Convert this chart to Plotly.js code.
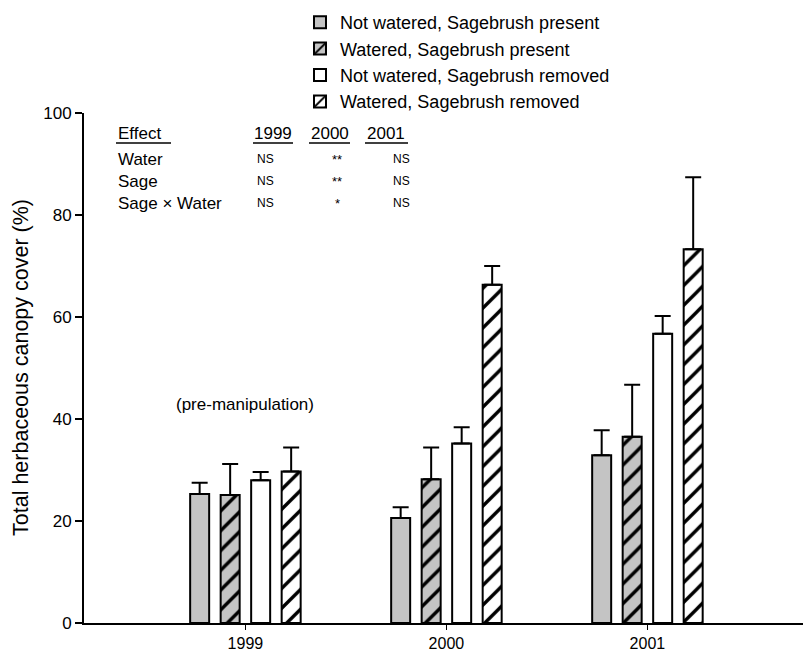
<!DOCTYPE html>
<html>
<head>
<meta charset="utf-8">
<script src="https://cdn.plot.ly/plotly-3.0.1.min.js"></script>
<style>html,body{margin:0;padding:0;background:#fff;}#chart{width:803px;height:651px;}</style>
</head>
<body>
<div id="chart"></div>
<script>
// ---- data ----
const years = ['1999', '2000', '2001'];
const seriesNames = [
  'Not watered, Sagebrush present',
  'Watered, Sagebrush present',
  'Not watered, Sagebrush removed',
  'Watered, Sagebrush removed'
];
const notWateredSagePresent = [25.3, 20.6, 32.9];
const wateredSagePresent    = [25.1, 28.2, 36.5];
const notWateredSageRemoved = [28.0, 35.2, 56.7];
const wateredSageRemoved    = [29.7, 66.3, 73.3];
const errNotWateredSagePresent = [2.2, 2.1, 4.9];
const errWateredSagePresent    = [6.1, 6.2, 10.2];
const errNotWateredSageRemoved = [1.6, 3.2, 3.5];
const errWateredSageRemoved    = [4.7, 3.7, 14.1];

const effectRows = ['Water', 'Sage', 'Sage \u00d7 Water'];
const effect1999 = ['NS', 'NS', 'NS'];
const effect2000 = ['**', '**', '*'];
const effect2001 = ['NS', 'NS', 'NS'];
const yTitle = 'Total herbaceous canopy cover (%)';
const note = '(pre-manipulation)';

// ---- styling ----
const FONT = 'Liberation Sans, Arial, Helvetica, sans-serif';
const W = 803, H = 651;
const M = {l: 84, r: 0, t: 113, b: 28};
const PW = W - M.l - M.r, PH = H - M.t - M.b;
const px = x => (x - M.l) / PW;
const py = y => (H - M.b - y) / PH;
const GRAY = '#c4c4c4';

function errOpts(arr) {
  return {type: 'data', symmetric: false, array: arr, arrayminus: arr.map(() => 0),
          color: '#000', thickness: 2, width: 8};
}
const lineStyle = {color: '#000', width: 2};

const traces = [
  {name: seriesNames[0], x: years, y: notWateredSagePresent, error_y: errOpts(errNotWateredSagePresent),
   marker: {color: GRAY, line: lineStyle}},
  {name: seriesNames[1], x: years, y: wateredSagePresent, error_y: errOpts(errWateredSagePresent),
   marker: {color: GRAY, line: lineStyle,
            pattern: {shape: '/', bgcolor: GRAY, fgcolor: '#000', size: 14, solidity: 0.24, fillmode: 'replace'}}},
  {name: seriesNames[2], x: years, y: notWateredSageRemoved, error_y: errOpts(errNotWateredSageRemoved),
   marker: {color: '#fff', line: lineStyle}},
  {name: seriesNames[3], x: years, y: wateredSageRemoved, error_y: errOpts(errWateredSageRemoved),
   marker: {color: '#fff', line: lineStyle,
            pattern: {shape: '/', bgcolor: '#fff', fgcolor: '#000', size: 14, solidity: 0.24, fillmode: 'replace'}}}
].map(t => Object.assign({type: 'bar', hoverinfo: 'skip'}, t));

const annotations = [];
function txt(text, x, y, anchor, size, angle) {
  annotations.push({text: text, xref: 'paper', yref: 'paper', x: px(x), y: py(y),
    xanchor: anchor, yanchor: 'middle', showarrow: false, textangle: angle || 0,
    font: {family: FONT, size: size, color: '#000'}});
}
const rowY = [159, 181, 203];
txt('Effect', 116, 133, 'left', 17);
txt('1999', 273, 133, 'center', 17);
txt('2000', 330, 133, 'center', 17);
txt('2001', 386, 133, 'center', 17);
effectRows.forEach((r, i) => {
  txt(r, 116, rowY[i], 'left', 17);
  txt(effect1999[i], 265, rowY[i], 'center', 12);
  txt(effect2000[i], 337, rowY[i], 'center', 13);
  txt(effect2001[i], 401, rowY[i], 'center', 12);
});
txt(note, 245, 404, 'center', 17);
// rotated y-axis title, placed as in the reference
txt(yTitle, 21, 368, 'center', 21.5, -90);

const shapes = [[116, 171], [253, 293], [309, 350], [365, 408]].map(s => ({
  type: 'line', xref: 'paper', yref: 'paper', x0: px(s[0]), x1: px(s[1]), y0: py(143), y1: py(143),
  line: {color: '#000', width: 1.5}
}));

const layout = {
  width: W, height: H, margin: M,
  paper_bgcolor: '#fff', plot_bgcolor: '#fff',
  font: {family: FONT, color: '#000', size: 17},
  barmode: 'group', bargap: 0.393, bargroupgap: 0.377,
  showlegend: true,
  legend: {x: px(300), y: py(4), xanchor: 'left', yanchor: 'top',
           font: {family: FONT, size: 18, color: '#000'}, bgcolor: 'rgba(0,0,0,0)',
           traceorder: 'normal'},
  xaxis: {type: 'category', range: [-0.803, 2.774], showline: true, linecolor: '#000', linewidth: 2,
          ticks: 'outside', ticklen: 5, tickwidth: 1.5, tickcolor: '#000', showgrid: false,
          zeroline: false, tickfont: {family: FONT, size: 16}},
  yaxis: {range: [0, 100], dtick: 20, showline: true, linecolor: '#000', linewidth: 2,
          ticks: 'outside', ticklen: 7, tickwidth: 1.5, tickcolor: '#000', showgrid: false,
          zeroline: false, tickfont: {family: FONT, size: 17}},
  annotations: annotations, shapes: shapes
};

Plotly.newPlot('chart', traces, layout, {displayModeBar: false, staticPlot: true});
</script>
</body>
</html>
